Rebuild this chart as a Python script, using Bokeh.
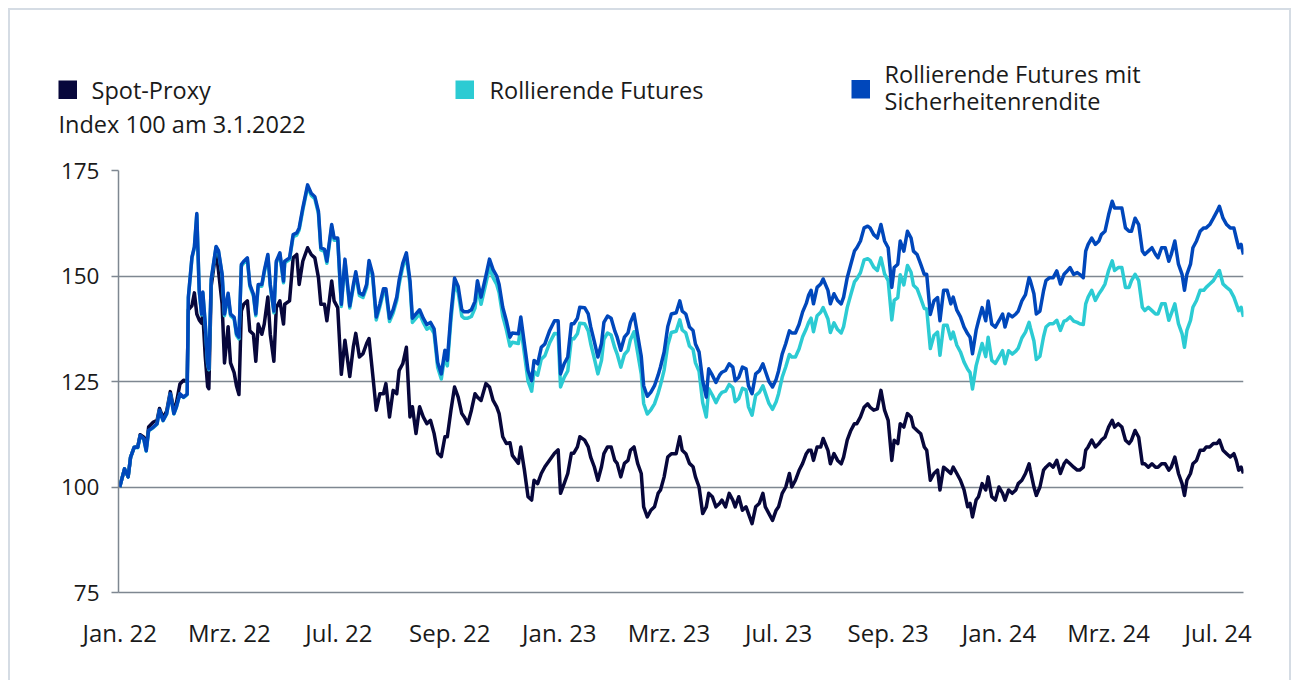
from bokeh.plotting import figure
from bokeh.layouts import column
from bokeh.models import Range1d, FixedTicker, Label
from bokeh.embed import file_html
from bokeh.resources import INLINE

# ---------------- data (days since 1 Jan 2022, index 100 am 3.1.2022) ----------------
day = [
    0, 4, 7, 9, 12, 15, 17, 20, 22, 24, 28, 31, 33, 36, 39, 42, 45, 47, 50, 53,
    56, 57, 60, 62, 64, 66, 68, 69, 71, 73, 74, 76, 80, 82, 85, 87, 90, 92, 95, 97,
    99, 101, 103, 106, 108, 111, 113, 115, 118, 120, 123, 125, 128, 130, 133, 136, 137, 141, 144, 147,
    149, 152, 156, 159, 162, 165, 167, 170, 172, 176, 178, 181, 184, 187, 191,
    194, 196, 199, 202, 205, 207, 210, 213, 216, 219, 221, 224, 227, 230, 232, 235, 238, 241, 243, 246,
    249, 252, 255, 258, 261, 264, 267, 270, 272, 275, 278, 281, 284, 286, 289, 292, 295, 297, 300, 304,
    307, 310, 313, 315, 318, 321, 324, 326, 331, 333, 336, 339, 342, 344, 347, 350, 353, 357, 361, 364,
    366, 369, 372, 375, 377, 380, 382,
    386, 389, 391, 394, 397, 400, 402, 405, 408, 411, 413, 416, 419, 422, 424, 427, 430, 433, 435, 438,
    441, 444, 447, 449, 452, 455, 458, 462, 465, 467, 470, 473, 476, 478, 481, 484, 487, 489, 492, 495,
    498, 500, 503, 506, 509, 511, 514, 517, 520, 522, 525, 528, 531, 534, 536, 539, 542, 545, 547, 550,
    553, 556, 558, 561, 564, 567, 570, 572,
    574, 576, 579, 582, 584, 588, 590, 593, 596, 599, 601, 604, 607, 610, 612, 615, 618, 621, 623, 626,
    629, 632, 635, 638, 641, 643, 646, 648, 651, 654, 657, 659, 662, 665, 668, 670, 673, 676, 679, 681,
    684, 687, 690, 692, 695, 698, 701, 704, 706, 708, 711, 713, 716, 719, 721, 724, 727, 730, 733, 735,
    738, 741, 744, 746, 749, 752, 755,
    756, 759, 761, 764, 767, 769, 772, 775, 778, 781, 784, 786, 789, 792, 795, 797, 800,
    802, 804, 807, 810, 813, 815, 818, 821, 824, 826, 829, 832, 835, 838, 840, 843, 846, 849, 851, 854,
    857, 860, 862, 865, 868, 871, 873, 876, 879, 882, 884, 886, 889, 891, 894, 897, 900, 902, 905, 908,
    911, 913, 916, 919, 922, 925, 927, 929, 931, 933,
]

spot_proxy = [
    100, 104.3, 102.4, 107, 109.4, 109.6, 112.4, 111.8, 109.2, 114.2, 115.4, 115.8, 118.6, 116.4, 118, 122.6, 118.2, 119.8, 124.4, 125.3,
    125, 142, 143, 146, 141, 139.6, 138.8, 141, 131, 123.8, 123.3, 147.7, 156, 151.3, 143.4, 129.4, 138, 129.4, 127.1, 123.9,
    121.9, 141.7, 143.3, 144.1, 137, 136.2, 129.8, 138.6, 136.2, 138.6, 145, 136.2, 129.8, 142.5, 144.1, 138.6, 143.3, 144.1, 154.3, 155.1,
    148, 153.5, 156.7, 155.1, 154.3, 149.6, 143.3, 143.3, 139.4, 148.8, 144.1, 142.5, 126.7, 134.8, 126.2,
    133.3, 136.4, 130.8, 131.6, 134, 135.2, 126.8, 118.2, 122.1, 122.1, 124.5, 116.6, 122.9, 122.1, 127.6, 129.2, 133.1, 116.6, 119, 112.7,
    119, 116.6, 115, 115.8, 112.7, 108, 107.2, 111.9, 111.9, 118.2, 123.7, 121.3, 117.4, 116.6, 115, 118.2, 122.1, 121.3, 120.5, 124.5,
    123.7, 120.5, 119, 117.4, 111.9, 110.3, 110.5, 107.5, 105.6, 109.5, 104, 97.7, 96.9, 101.6, 100.8, 103.2, 104.8, 106.4, 108, 108.8,
    98.5, 100.8, 103.2, 108, 108, 109.5, 111.9,
    111.1, 109.5, 107.1, 104.8, 101.6, 104.8, 107.9, 109.5, 109.5, 106.3, 105.6, 102.4, 105.6, 106.3, 108.7, 109.5, 105.6, 103.2, 95.3, 92.9,
    94.5, 95.3, 98.5, 99.3, 102.4, 107.1, 107.9, 107.9, 111.9, 108.7, 107.9, 105.6, 104.8, 102.4, 100, 93.7, 95.3, 98.5, 97.7, 95.3,
    96.1, 96.9, 95.3, 98.5, 96.9, 95.3, 97.7, 94.5, 95.3, 93.7, 91.3, 95.3, 96.1, 98.5, 95.3, 93.7, 92.1, 94.5, 95.3, 98.5,
    100, 103.2, 100, 101.6, 103.9, 105.6, 107.9, 108.7,
    108.7, 106.3, 109.5, 109.5, 111.5, 108.7, 105.5, 107.9, 106.3, 105.5, 107.1, 111.1, 113.4, 115, 115, 116.6, 118.9, 119.7, 118.9, 118.2,
    118.5, 122.9, 118.2, 115.8, 106.3, 111.1, 110.3, 115, 114.2, 117.4, 116.6, 114.2, 113.4, 112.6, 109.5, 108.7, 101.6, 103.2, 104, 99.3,
    104.7, 104, 103.2, 104.7, 103.2, 101.6, 99.3, 95.3, 96.1, 92.9, 96.9, 97.7, 100.8, 99.3, 102.4, 97.7, 96.9, 100, 98.5, 96.9,
    99.3, 98.5, 99.3, 100.8, 101.6, 103.2, 105.5,
    104, 100, 98, 100, 104, 104.7, 105.5, 104.7, 106.3, 103.2, 105.5, 106.3, 105.5, 104.7, 104, 104, 104.7,
    108.7, 109.5, 111.1, 109.5, 110.3, 111.1, 111.8, 114.2, 115.8, 114.2, 115, 114.2, 111.1, 110.3, 111.1, 113.4, 111.8, 105.5, 105.5, 104.7,
    105.5, 104.7, 104.7, 105.5, 105.5, 104, 104.7, 107.1, 103.2, 100.8, 98, 101.6, 103.2, 105.5, 106.3, 108.7, 108.7, 109.5, 109.5, 110.3,
    110.3, 111.1, 108.7, 107.9, 107.1, 107.9, 106.3, 104, 104.7, 103.2,
]

rollierende_futures = [
    100, 104.3, 102.4, 107, 109.4, 109.3, 112.1, 111.3, 108.5, 113.3, 114.1, 114.9, 118.1, 115.7, 117.3, 122, 117.3, 118.8, 122, 121.2,
    121.9, 144.8, 154.3, 156.7, 164.5, 146.4, 140.8, 146, 138.6, 129.1, 127.8, 149.1, 156.8, 155.8, 150.3, 140.6, 145.5, 140.6, 139.8, 135.9,
    135.1, 152.3, 153.1, 153.9, 147.6, 145.3, 140.6, 147.6, 147.6, 150.8, 154.7, 147.6, 141.3, 153.1, 155.1, 148.4, 153.1, 153.9, 159.3, 159.7,
    160.9, 165.6, 171.1, 169.1, 168.3, 164.8, 156.2, 155.8, 153, 161.7, 158.5, 158.5, 142.8, 153.5, 142.4,
    147.4, 150.4, 145.4, 144.9, 147.3, 153, 149.8, 139.6, 142.7, 146.2, 146.2, 139.2, 141.2, 144.2, 148.1, 152.1, 154.6, 148, 139, 140,
    141, 139, 137.4, 137.9, 136.4, 128.3, 125.6, 131.2, 128.7, 139.6, 148.1, 146.1, 140.5, 140, 140, 140.4, 142.4, 147.2, 143.3, 148.2,
    152.1, 149.6, 148, 146, 140.5, 137.3, 133.4, 134.3, 134, 137.9, 131.5, 125.1, 122.7, 127.4, 126.5, 130.3, 131.1, 134.2, 136.4, 136.3,
    123.7, 126, 127.5, 135.2, 135.1, 136.3, 138.8,
    138.7, 137, 134, 130.5, 126.8, 130, 135, 136.5, 136, 133, 131.5, 128.4, 131.4, 132.4, 134.9, 136.8, 131.8, 126.8, 119.8, 117.3,
    118.3, 119.7, 122.2, 124.2, 127.7, 133.6, 136.6, 136.9, 139.6, 137.2, 136.5, 133.4, 132.6, 129.4, 127.4, 120, 116.6, 123.3, 121.8, 120,
    121.7, 122.4, 122.7, 124.3, 123.5, 120.2, 121, 123.4, 123, 119, 117, 121.7, 122.4, 124, 122.3, 119.8, 118.4, 120.2, 122.1, 126,
    128.5, 131.4, 130.8, 130.8, 132.7, 135.6, 137.5, 139,
    140, 136.8, 140.6, 141.4, 142.5, 139.8, 136.6, 138.9, 137.3, 136.5, 138, 142.5, 145.6, 148.6, 149.3, 150.8, 153.8, 154.1, 153.7, 152.1,
    151.3, 154.3, 150.5, 148.9, 139.6, 144.2, 144.9, 150.3, 147.9, 152.5, 150.9, 147.8, 147, 144.7, 142.3, 142.2, 132.8, 135.9, 136.7, 131.2,
    138.3, 138.3, 135.1, 136.7, 133.6, 132, 129.6, 127.9, 127.1, 123.2, 128.7, 130.9, 134, 130.9, 135.5, 130, 129.3, 130.8, 132.3, 129.2,
    132.3, 131.5, 132.2, 132.9, 135.3, 136.7, 139,
    137.8, 134.6, 130.2, 131, 135.6, 137.9, 138.7, 138.7, 139.5, 137.1, 139.3, 139.5, 140.3, 139.3, 139, 138.7, 138.5,
    143.4, 145, 146.6, 144.2, 145.8, 146.6, 148.1, 151.3, 153.6, 151.3, 152, 152, 147.3, 147.3, 148.9, 150.4, 148.9, 142.6, 141.8, 142.6,
    141.8, 141, 141, 143.4, 143.4, 139.5, 141, 143.4, 138.7, 136.3, 133.1, 137.1, 139.5, 142.6, 144.2, 146.6, 146.6, 147.3, 148.1, 148.9,
    150.4, 151.3, 148.1, 147.3, 146.6, 145, 143.4, 141.8, 142.6, 140.3,
]

rollierende_futures_mit_sicherheitenrendite = [
    100, 104.3, 102.4, 107, 109.4, 109.4, 112.2, 111.4, 108.6, 113.4, 114.2, 115, 118.2, 115.8, 117.4, 122.1, 117.4, 118.9, 122.1, 121.3,
    122, 145, 154.5, 156.9, 164.8, 146.6, 141, 146.2, 138.8, 129.3, 128, 149.3, 157, 156, 150.5, 141, 145.9, 141, 140.2, 136.3,
    135.5, 152.7, 153.5, 154.3, 148, 145.7, 141, 148, 148, 151.2, 155.1, 148, 141.7, 153.5, 155.5, 148.8, 153.5, 154.3, 159.8, 160.2,
    161.4, 166.1, 171.6, 169.6, 168.8, 165.3, 156.7, 156.3, 153.5, 162.2, 159, 159, 143.3, 154, 142.9,
    148, 151, 146, 145.5, 148, 153.7, 150.5, 140.3, 143.4, 147, 147, 140, 142, 145, 149, 153, 155.5, 148.9, 140, 141,
    142, 140, 138.5, 139, 137.5, 129.5, 126.8, 132.4, 130, 141, 149.5, 147.5, 142, 141.5, 141.5, 142, 144, 148.9, 145, 150,
    154, 151.5, 150, 148, 142.6, 139.4, 135.5, 136.5, 136.3, 140.3, 133.9, 127.6, 125.2, 130, 129.2, 133.1, 133.9, 137.1, 139.4, 139.4,
    126.8, 129.2, 130.8, 138.7, 138.7, 140, 142.6,
    142.5, 141, 138, 134.5, 130.8, 134, 139, 140.5, 140, 137, 135.5, 132.4, 135.5, 136.5, 139, 141, 136, 131, 124, 121.5,
    122.5, 124, 126.5, 128.5, 132, 138, 141, 141.3, 144.1, 141.7, 141, 137.9, 137.1, 133.9, 132, 125.2, 121.3, 128, 126.5, 124.8,
    126.5, 127.2, 127.6, 129.2, 128.4, 125.2, 126, 128.4, 128, 124, 122.1, 126.8, 127.5, 129.2, 127.5, 125, 123.7, 125.5, 127.5, 131.5,
    134, 137, 136.5, 136.5, 138.5, 141.5, 143.5, 145.5,
    146.6, 143.4, 147.3, 148.1, 149.3, 146.6, 143.4, 145.8, 144.2, 143.4, 145, 149.6, 152.8, 155.9, 156.7, 158.3, 161.4, 161.8, 161.4, 159.8,
    159, 162.2, 158.3, 156.7, 147.3, 152, 152.8, 158.3, 155.9, 160.6, 159, 155.9, 155.1, 152.8, 150.4, 150.4, 140.9, 144.1, 144.9, 139.4,
    146.6, 146.6, 143.4, 145, 141.9, 140.3, 137.9, 136.3, 135.5, 131.6, 137.1, 139.4, 142.5, 139.4, 144.1, 138.6, 137.9, 139.4, 141, 137.9,
    141, 140.3, 141, 141.7, 144.1, 145.6, 149.6,
    148.9, 145.8, 141, 141.7, 146.5, 148.9, 149.6, 149.6, 151.2, 148.1, 150.4, 151, 152, 150.4, 150.8, 150.4, 149.6,
    155.9, 157.5, 159, 157.5, 158.3, 159.8, 160.6, 164.5, 167.7, 166.1, 166.1, 166.1, 161.4, 160.6, 160.6, 163.7, 162.2, 155.9, 155.1, 155.9,
    156.7, 155.1, 154.3, 156.7, 156.7, 153.5, 155.1, 158.3, 152.8, 150.4, 146.6, 150.4, 152.8, 156.7, 158.3, 160.6, 161.4, 161.4, 162.2, 163.7,
    165.3, 166.5, 163.7, 162.2, 161.4, 161.4, 159, 156.7, 157.5, 155.1,
]

tick_days = [0, 91, 182, 274, 365, 456, 547, 638, 730, 821, 912]
tick_labels = ["Jan. 22", "Mrz. 22", "Jul. 22", "Sep. 22", "Jan. 23", "Mrz. 23",
               "Jul. 23", "Sep. 23", "Jan. 24", "Mrz. 24", "Jul. 24"]
y_ticks = [75, 100, 125, 150, 175]

series_names = ["Spot-Proxy", "Rollierende Futures", "Rollierende Futures mit", "Sicherheitenrendite"]
series_colors = ["#07073b", "#2ccbd3", "#0047bb"]
subtitle = "Index 100 am 3.1.2022"

# ---------------- styling ----------------
FONT = "Open Sans"
TXT = "#1a1a1a"
GRID = "#7e8791"
W = 1279
HDR_H = 140
MAIN_H = 530

# ---- header (legend) : a pixel-scaled canvas ----
hdr = figure(width=W, height=HDR_H, output_backend="svg", toolbar_location=None,
             x_range=Range1d(0, W), y_range=Range1d(HDR_H, 0),
             x_axis_type=None, y_axis_type=None, min_border=0)
hdr.frame_align = False
hdr.outline_line_color = None
hdr.xgrid.visible = False
hdr.ygrid.visible = False

sw_left = [48, 445, 841]
sw_top = [70, 70, 69.5]
sw_size = 18.5
hdr.quad(left=sw_left, right=[v + sw_size for v in sw_left],
         top=sw_top, bottom=[v + sw_size for v in sw_top],
         fill_color=series_colors, line_color=None)

txt_pos = [(81, 79), (479, 79), (874, 63), (874, 90.5), (48, 113.5)]
for text, (tx, ty) in zip(series_names + [subtitle], txt_pos):
    hdr.add_layout(Label(x=tx, y=ty, text=text, text_baseline="middle", text_align="left",
                         text_font=FONT, text_font_size="23.5px", text_color=TXT))

# ---- main chart ----
p = figure(width=W, height=MAIN_H, output_backend="svg", toolbar_location=None,
           x_range=Range1d(-1, 933), y_range=Range1d(75, 175),
           min_border_left=108, min_border_right=46, min_border_top=20, min_border_bottom=88)
p.frame_align = False
p.outline_line_color = None

p.xgrid.grid_line_color = None
p.ygrid.ticker = FixedTicker(ticks=y_ticks)
p.ygrid.grid_line_color = GRID
p.ygrid.grid_line_width = 1.5

ya = p.yaxis[0]
ya.ticker = FixedTicker(ticks=y_ticks)
ya.axis_line_color = GRID
ya.axis_line_width = 1.5
ya.major_tick_line_color = GRID
ya.major_tick_line_width = 1.5
ya.major_tick_out = 7
ya.major_tick_in = 0
ya.minor_tick_line_color = None
ya.major_label_standoff = 12
ya.major_label_text_font = FONT
ya.major_label_text_font_size = "22.5px"
ya.major_label_text_color = TXT

xa = p.xaxis[0]
xa.ticker = FixedTicker(ticks=tick_days)
xa.major_label_overrides = {d: l for d, l in zip(tick_days, tick_labels)}
xa.axis_line_color = GRID
xa.axis_line_width = 1.5
xa.major_tick_line_color = None
xa.minor_tick_line_color = None
xa.major_tick_out = 0
xa.major_tick_in = 0
xa.major_label_standoff = 23
xa.major_label_text_font = FONT
xa.major_label_text_font_size = "24px"
xa.major_label_text_color = TXT

for vals, col in zip([spot_proxy, rollierende_futures, rollierende_futures_mit_sicherheitenrendite], series_colors):
    p.line(day, vals, line_color=col, line_width=3.5, line_join="round")

BORDER = "2px solid #d5dce4"
layout = column(hdr, p, spacing=0, margin=(8, 0, 0, 8),
                styles={"border-top": BORDER, "border-left": BORDER, "border-right": BORDER})

open("out.html", "w").write(file_html(layout, INLINE))
